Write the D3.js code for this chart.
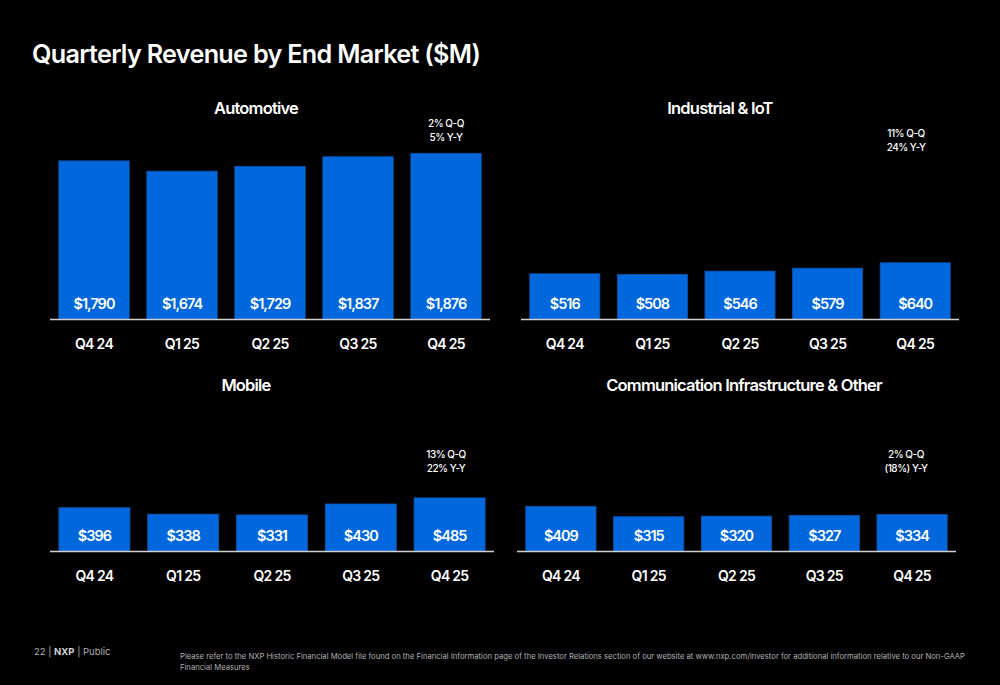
<!DOCTYPE html>
<html>
<head>
<meta charset="utf-8">
<script src="https://cdn.jsdelivr.net/npm/d3@7"></script>
<style>
  html, body { margin: 0; padding: 0; background: #000; }
  svg { display: block; }
</style>
</head>
<body>
<script>
const quarters = ["Q4 24", "Q1 25", "Q2 25", "Q3 25", "Q4 25"];
const automotive = [1790, 1674, 1729, 1837, 1876];
const industrialIoT = [516, 508, 546, 579, 640];
const mobile = [396, 338, 331, 430, 485];
const commInfra = [409, 315, 320, 327, 334];
const panelTitles = ["Automotive", "Industrial & IoT", "Mobile", "Communication Infrastructure & Other"];
const growthNotes = [
  ["2% Q-Q", "5% Y-Y"],
  ["11% Q-Q", "24% Y-Y"],
  ["13% Q-Q", "22% Y-Y"],
  ["2% Q-Q", "(18%) Y-Y"]
];

const W = 1000, H = 685;
const FONT = "Inter, 'Open Sans', sans-serif";
const BLUE = "#0068dc";

const svg = d3.select("body").append("svg").attr("width", W).attr("height", H);
svg.append("rect").attr("width", W).attr("height", H).attr("fill", "#000");

svg.append("text").attr("x", 32).attr("y", 63)
  .attr("fill", "#fff").attr("font-family", FONT).attr("font-size", 25.2).attr("font-weight", 600)
  .attr("letter-spacing", -0.7)
  .text("Quarterly Revenue by End Market ($M)");

const panels = [
  { values: automotive, x0: 50, x1: 490, base: 319.5, yMax: 2000, h: 177.2, titleX: 256, titleY: 114, noteX: 446, noteY: 127 },
  { values: industrialIoT, x0: 521, x1: 959, base: 319.5, yMax: 2000, h: 177.2, titleX: 720, titleY: 114, noteX: 906, noteY: 137 },
  { values: mobile, x0: 50, x1: 494, base: 551.5, yMax: 500, h: 55.25, titleX: 246, titleY: 391, noteX: 446, noteY: 458 },
  { values: commInfra, x0: 517, x1: 956, base: 551.5, yMax: 500, h: 55.25, titleX: 744, titleY: 391, noteX: 906, noteY: 458 }
];

panels.forEach((p, i) => {
  const g = svg.append("g");
  const x = d3.scaleBand().domain(quarters).range([p.x0, p.x1]).paddingInner(0.2).paddingOuter(0.1);
  const y = d3.scaleLinear().domain([0, p.yMax]).range([p.base, p.base - p.h]);
  const data = quarters.map((q, k) => ({ q, v: p.values[k] }));

  g.append("text").attr("x", p.titleX).attr("y", p.titleY).attr("text-anchor", "middle")
    .attr("fill", "#fff").attr("font-family", FONT).attr("font-size", 16.5).attr("font-weight", 600)
    .attr("letter-spacing", -0.8)
    .text(panelTitles[i]);

  g.selectAll("rect.bar").data(data).join("rect").attr("class", "bar")
    .attr("x", d => x(d.q)).attr("width", x.bandwidth())
    .attr("y", d => y(d.v)).attr("height", d => y(0) - y(d.v))
    .attr("fill", BLUE).attr("stroke", "#0a55b0").attr("stroke-width", 0.8);

  g.selectAll("text.val").data(data).join("text").attr("class", "val")
    .attr("x", d => x(d.q) + x.bandwidth() / 2).attr("y", p.base - 11)
    .attr("text-anchor", "middle").attr("fill", "#fff")
    .attr("font-family", FONT).attr("font-size", 14.5).attr("font-weight", 600)
    .attr("letter-spacing", -1)
    .text(d => "$" + d3.format(",")(d.v));

  const axis = d3.axisBottom(x).tickSize(0).tickPadding(0);
  const ax = g.append("g").attr("transform", `translate(0,${p.base})`).call(axis);
  ax.select(".domain").remove();
  ax.append("line").attr("x1", p.x0).attr("x2", p.x1).attr("y1", 0).attr("y2", 0)
    .attr("stroke", "#d0d0d0").attr("stroke-width", 1.6);
  ax.selectAll(".tick text").attr("fill", "#fff").attr("font-family", FONT)
    .attr("font-size", 14).attr("font-weight", 600).attr("letter-spacing", -0.7)
    .attr("dy", 0).attr("y", 29);

  growthNotes[i].forEach((t, k) => {
    g.append("text").attr("x", p.noteX).attr("y", p.noteY + k * 13.5).attr("text-anchor", "middle")
      .attr("fill", "#fff").attr("font-family", FONT).attr("font-size", 10).attr("font-weight", 500)
      .attr("letter-spacing", -0.5)
      .text(t);
  });
});

// footer
const foot = svg.append("text").attr("x", 34).attr("y", 655)
  .attr("fill", "#b0b0b0").attr("font-family", FONT).attr("font-size", 9.5);
foot.append("tspan").text("22  |  ");
foot.append("tspan").attr("font-weight", 700).attr("fill", "#d0d0d0").text("NXP");
foot.append("tspan").text("  |  Public");

svg.append("text").attr("x", 180).attr("y", 659).attr("fill", "#b0b0b0")
  .attr("font-family", FONT).attr("font-size", 7.66)
  .text("Please refer to the NXP Historic Financial Model file found on the Financial Information page of the Investor Relations section of our website at www.nxp.com/investor for additional information relative to our Non-GAAP");
svg.append("text").attr("x", 180).attr("y", 670).attr("fill", "#b0b0b0")
  .attr("font-family", FONT).attr("font-size", 7.66)
  .text("Financial Measures");
</script>
</body>
</html>
